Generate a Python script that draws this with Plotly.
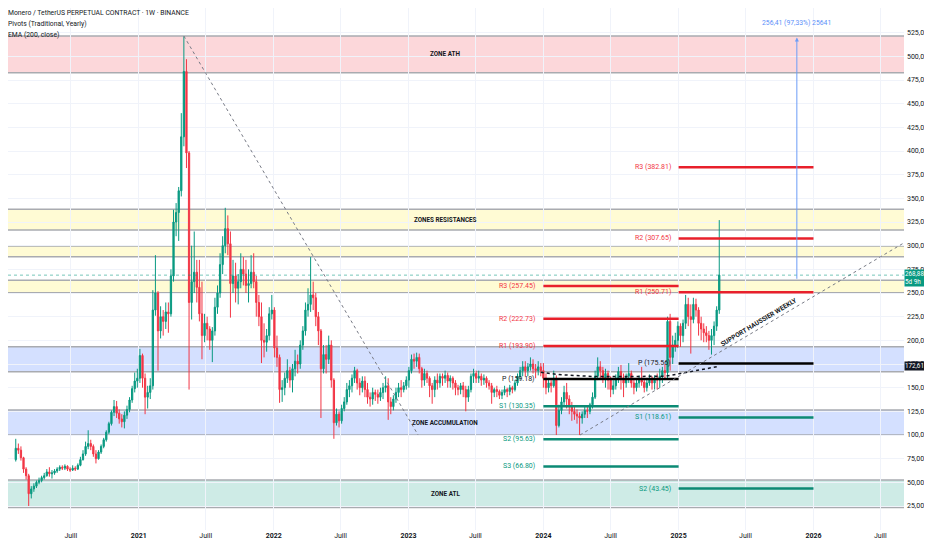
import pandas as pd
import plotly.graph_objects as go

# ---- weekly XMR/USDT perpetual candles ----
FIRST_WEEK = "2020-02-03"
FIRST_OPEN = 74

closes = [
    # 2020
    86, 84, 76, 64, 57, 38, 43, 46, 50, 52,
    55, 57, 61, 59, 60, 62, 64, 66, 65, 67,
    64, 63, 65, 64, 68, 74, 80, 88, 91, 88,
    80, 75, 82, 88, 95, 103, 112, 124, 130, 123,
    117, 114, 121, 127, 137, 149, 157, 160,
    # 2021
    184, 160, 140, 145, 152, 232, 250, 210, 225, 220,
    230, 228, 268, 325, 335, 358, 415, 484, 398, 240,
    262, 272, 256, 228, 205, 218, 212, 200, 210, 235,
    250, 280, 300, 318, 302, 260, 268, 255, 262, 275,
    270, 258, 260, 272, 262, 240, 225, 200, 198, 205,
    228, 232,
    # 2022
    192, 182, 148, 150, 160, 168, 158, 170, 178, 175,
    195, 210, 232, 238, 248, 245, 225, 210, 170, 185,
    180, 195, 158, 113, 122, 115, 128, 135, 148, 152,
    160, 168, 155, 150, 157, 148, 140, 138, 145, 143,
    140, 145, 150, 152, 135, 130, 138, 145, 150, 148,
    152, 158,
    # 2023
    168, 180, 178, 182, 170, 158, 165, 160, 152, 148,
    158, 155, 162, 160, 163, 157, 160, 155, 150, 148,
    152, 148, 140, 148, 162, 165, 160, 162, 158, 160,
    155, 152, 145, 148, 146, 142, 145, 148, 146, 150,
    148, 155, 162, 168, 172, 168, 172, 175, 170, 168,
    172, 168,
    # 2024 - 2025
    160, 150, 155, 152, 160, 110, 126, 135, 145, 138,
    130, 125, 122, 120, 118, 122, 126, 125, 132, 140,
    162, 172, 168, 160, 165, 158, 148, 152, 160, 167,
    160, 155, 162, 165, 155, 150, 155, 158, 156, 150,
    155, 160, 155, 160, 158, 162, 168, 166, 220, 182,
    195, 200, 215, 205, 218, 238, 225, 222, 238, 232,
    218, 212, 208, 205, 200, 205, 215, 232, 268.88,
]

highs = [
    96, 91, 88, 77, 66, 59, 46, 49, 52, 55,
    57, 60, 64, 66, 63, 64, 66, 68, 68, 69,
    68, 66, 68, 67, 70, 77, 84, 93, 105, 95,
    90, 84, 84, 90, 97, 105, 114, 126, 137, 136,
    127, 122, 125, 131, 140, 152, 166, 170,
    191, 186, 165, 152, 160, 253, 290, 252, 236, 232,
    240, 240, 275, 338, 345, 362, 440, 521, 497, 400,
    300, 315, 285, 285, 262, 228, 225, 215, 214, 245,
    258, 292, 310, 340, 332, 315, 285, 282, 270, 292,
    288, 285, 275, 290, 292, 268, 248, 240, 218, 212,
    235, 248,
    235, 205, 185, 158, 166, 180, 172, 175, 190, 185,
    200, 215, 240, 255, 288, 262, 250, 230, 212, 195,
    195, 205, 200, 160, 128, 125, 132, 140, 155, 158,
    164, 172, 170, 160, 162, 162, 155, 145, 150, 148,
    148, 150, 155, 162, 160, 140, 142, 150, 155, 158,
    156, 162,
    172, 185, 186, 187, 186, 172, 170, 168, 162, 155,
    162, 165, 165, 165, 168, 166, 163, 162, 158, 153,
    155, 156, 152, 152, 165, 170, 168, 168, 165, 164,
    162, 158, 155, 150, 152, 148, 148, 152, 150, 153,
    152, 158, 165, 172, 178, 178, 176, 182, 180, 175,
    178, 176,
    176, 165, 160, 158, 168, 163, 132, 140, 152, 155,
    142, 135, 130, 127, 124, 125, 130, 130, 134, 145,
    168, 182, 178, 172, 170, 168, 162, 158, 164, 172,
    174, 165, 165, 176, 168, 160, 160, 163, 172, 160,
    160, 164, 162, 163, 165, 170, 172, 175, 225, 228,
    205, 208, 220, 218, 222, 248, 245, 238, 245, 244,
    235, 225, 218, 215, 210, 212, 220, 236, 327,
]

lows = [
    72, 80, 73, 60, 53, 25, 33, 40, 44, 48,
    50, 53, 56, 56, 54, 58, 60, 62, 63, 63,
    62, 61, 62, 62, 63, 67, 73, 78, 85, 84,
    77, 70, 74, 80, 86, 93, 101, 110, 120, 118,
    112, 108, 107, 117, 124, 134, 145, 150,
    155, 150, 122, 128, 138, 148, 226, 168, 202, 205,
    212, 208, 225, 262, 310, 305, 352, 405, 382, 148,
    222, 250, 240, 220, 180, 198, 200, 190, 177, 205,
    228, 245, 270, 292, 290, 224, 250, 240, 238, 255,
    258, 250, 240, 255, 255, 225, 215, 176, 182, 188,
    200, 222,
    182, 172, 134, 135, 142, 155, 150, 145, 162, 165,
    170, 190, 205, 225, 230, 232, 215, 195, 118, 165,
    165, 175, 150, 96, 110, 108, 112, 125, 132, 140,
    145, 155, 148, 142, 145, 140, 133, 130, 132, 136,
    133, 136, 138, 145, 116, 122, 126, 134, 140, 140,
    145, 148,
    150, 165, 170, 172, 165, 150, 152, 155, 140, 133,
    140, 148, 150, 152, 155, 150, 150, 148, 142, 142,
    143, 140, 125, 135, 145, 155, 155, 155, 152, 153,
    150, 148, 133, 140, 140, 138, 138, 142, 140, 142,
    144, 146, 152, 158, 162, 162, 162, 168, 165, 160,
    163, 162,
    150, 143, 145, 145, 150, 100, 108, 122, 130, 128,
    122, 115, 116, 112, 100, 112, 118, 118, 122, 128,
    138, 158, 160, 155, 150, 148, 140, 143, 148, 155,
    148, 140, 150, 155, 150, 143, 146, 150, 152, 145,
    146, 152, 148, 148, 148, 150, 155, 158, 160, 168,
    175, 188, 192, 193, 198, 212, 215, 186, 218, 225,
    205, 200, 198, 198, 190, 185, 195, 210, 228,
]

# ---- horizontal zones ----
zone_kind = ["ath", "res", "res", "res", "acc", "acc", "atl"]
zone_low = [482.7, 316.6, 288.4, 250.3, 166.9, 100.0, 23.5]
zone_high = [521.5, 338.4, 299.6, 263.4, 193.3, 126.4, 52.5]
zone_label = ["ZONE ATH", "ZONES RESISTANCES", "", "", "", "ZONE ACCUMULATION", "ZONE ATL"]

# ---- yearly traditional pivots ----
piv_2024_names = ["R3", "R2", "R1", "P", "S1", "S2", "S3"]
piv_2024_vals = [257.45, 222.73, 193.90, 159.18, 130.35, 95.63, 66.80]
piv_2025_names = ["R3", "R2", "R1", "P", "S1", "S2"]
piv_2025_vals = [382.81, 307.65, 250.71, 175.56, 118.61, 43.45]

# ---- EMA 200 (dotted) ----
ema_dates = ["2023-12-25", "2024-02-12", "2024-05-13", "2024-11-25", "2025-01-06", "2025-04-21"]
ema_vals = [166.2, 163.8, 161.8, 162.0, 165.0, 172.61]

# ---- drawings ----
ath_line_dates = ["2021-05-03", "2023-01-27"]
ath_line_vals = [521.5, 100.0]
support_dates = ["2024-04-09", "2026-09-03"]
support_vals = [100.0, 303.0]
measure_date = "2025-11-17"
measure_from, measure_to = 263.44, 519.85
measure_text = "256,41 (97,33%) 25641"
last_price = 268.88
ema_last = 172.61

price_ticks = list(range(25, 551, 25))
time_ticks = ["2020-07-01", "2021-01-01", "2021-07-01", "2022-01-01", "2022-07-01",
              "2023-01-01", "2023-07-01", "2024-01-01", "2024-07-01", "2025-01-01",
              "2025-07-01", "2026-01-01", "2026-07-01"]
time_labels = ["Juill", "2021", "Juill", "2022", "Juill", "2023", "Juill", "2024",
               "Juill", "2025", "Juill", "2026", "Juill"]

UP = "#089981"
DOWN = "#f23645"
INK = "#131722"
FONT = "Roboto"
ZONE_FILL = {"ath": "rgba(242,54,69,0.2)", "res": "rgba(255,235,59,0.22)",
             "acc": "rgba(41,98,255,0.2)", "atl": "rgba(8,153,129,0.2)"}
ZONE_EDGE = "#a9abb0"

weeks = pd.date_range(FIRST_WEEK, periods=len(closes), freq="7D")
opens = [FIRST_OPEN] + closes[:-1]


def fmt(v):
    return f"{v:.2f}".replace(".", ",")


fig = go.Figure()

fig.add_trace(go.Candlestick(
    x=weeks, open=opens, high=highs, low=lows, close=closes,
    increasing=dict(line=dict(color=UP, width=1), fillcolor=UP),
    decreasing=dict(line=dict(color=DOWN, width=1), fillcolor=DOWN),
    whiskerwidth=0, showlegend=False, hoverinfo="skip",
))

fig.add_trace(go.Scatter(
    x=ema_dates, y=ema_vals, mode="lines",
    line=dict(color=INK, width=1.5, dash="dot"),
    showlegend=False, hoverinfo="skip",
))

shapes = []
annotations = []

# zones
for kind, lo, hi, lab in zip(zone_kind, zone_low, zone_high, zone_label):
    shapes.append(dict(type="rect", xref="paper", x0=0, x1=1, yref="y", y0=lo, y1=hi,
                       fillcolor=ZONE_FILL[kind], line=dict(width=0), layer="below"))
    for yv in (lo, hi):
        shapes.append(dict(type="line", xref="paper", x0=0, x1=1, yref="y", y0=yv, y1=yv,
                           line=dict(color=ZONE_EDGE, width=1.5), layer="below"))
    if lab:
        annotations.append(dict(xref="paper", x=0.488, yref="y", y=(lo + hi) / 2,
                                text=f"<b>{lab}</b>", showarrow=False,
                                font=dict(family=FONT, size=6.3, color=INK)))


# pivots
def pivot_color(name):
    if name.startswith("R"):
        return "#e8202b", DOWN
    if name.startswith("S"):
        return "#0b8a74", UP
    return "#000000", INK


for names, vals, start, end in [(piv_2024_names, piv_2024_vals, "2024-01-01", "2025-01-01"),
                                (piv_2025_names, piv_2025_vals, "2025-01-01", "2026-01-01")]:
    for name, val in zip(names, vals):
        lc, tc = pivot_color(name)
        shapes.append(dict(type="line", xref="x", x0=start, x1=end, yref="y", y0=val, y1=val,
                           line=dict(color=lc, width=2.5), layer="above"))
        annotations.append(dict(xref="x", x=start, yref="y", y=val, xanchor="right",
                                xshift=-6, text=f"{name} ({val:.2f})", showarrow=False,
                                font=dict(family=FONT, size=7, color=tc)))

# trend lines
shapes.append(dict(type="line", xref="x", yref="y",
                   x0=ath_line_dates[0], y0=ath_line_vals[0],
                   x1=ath_line_dates[1], y1=ath_line_vals[1],
                   line=dict(color="#787b86", width=1, dash="3px,3px")))
shapes.append(dict(type="line", xref="x", yref="y",
                   x0=support_dates[0], y0=support_vals[0],
                   x1=support_dates[1], y1=support_vals[1],
                   line=dict(color="#787b86", width=1, dash="3px,3px")))
annotations.append(dict(xref="x", x="2025-08-07", yref="y", y=219.5, textangle=-31,
                        text="<b>SUPPORT HAUSSIER WEEKLY</b>", showarrow=False,
                        font=dict(family=FONT, size=6.5, color=INK)))

# last price line
shapes.append(dict(type="line", xref="paper", x0=0, x1=1, yref="y", y0=last_price, y1=last_price,
                   line=dict(color="rgba(8,153,129,0.55)", width=1, dash="dot")))

# measurement arrow
annotations.append(dict(xref="x", x=measure_date, yref="y", y=measure_to,
                        axref="x", ax=measure_date, ayref="y", ay=measure_from,
                        text="", showarrow=True, arrowhead=2, arrowsize=0.8,
                        arrowwidth=1, arrowcolor="#6b9cf7"))
annotations.append(dict(xref="x", x=measure_date, yref="y", y=535.5, text=measure_text,
                        showarrow=False, font=dict(family=FONT, size=6.8, color="#5b8ff9")))

# header (page adds an 8px offset, so keep the first line just inside the figure)
for i, line in enumerate(["Monero / TetherUS PERPETUAL CONTRACT · 1W · BINANCE",
                          "Pivots (Traditional, Yearly)", "EMA (200, close)"]):
    annotations.append(dict(xref="paper", x=0, xanchor="left", xshift=-2,
                            yref="paper", y=1, yanchor="middle", yshift=-5 - 11 * i,
                            text=line, showarrow=False,
                            font=dict(family=FONT, size=6.8, color=INK)))

# price axis labels
annotations.append(dict(xref="paper", x=1, xanchor="left", xshift=0, yref="y", y=last_price,
                        yanchor="top", yshift=6, text=f"{fmt(last_price)}<br>5d 9h",
                        showarrow=False, bgcolor=UP, borderpad=0, align="left",
                        font=dict(family=FONT, size=6.3, color="white")))
annotations.append(dict(xref="paper", x=1, xanchor="left", xshift=0, yref="y", y=ema_last,
                        text=fmt(ema_last), showarrow=False, bgcolor=INK, borderpad=0,
                        font=dict(family=FONT, size=6.3, color="white")))

# the page adds an 8px body margin, so the figure is 8px smaller each way
fig.update_layout(
    width=924, height=542,
    margin=dict(l=0, r=28, t=0, b=20),
    paper_bgcolor="white", plot_bgcolor="white",
    shapes=shapes, annotations=annotations,
    hovermode=False,
    font=dict(family=FONT, size=7, color=INK),
)
fig.update_xaxes(
    type="date", range=["2020-01-13", "2026-09-03"],
    tickvals=time_ticks,
    ticktext=[f"<b>{t}</b>" if t.isdigit() else t for t in time_labels],
    showgrid=True, gridcolor="#f0f3fa", zeroline=False, showline=False,
    rangeslider=dict(visible=False), ticks="", ticklen=0,
    tickfont=dict(family=FONT, size=7, color=INK),
)
fig.update_yaxes(
    side="right", range=[-0.33, 551.06],
    tickvals=price_ticks, ticktext=[fmt(v) for v in price_ticks],
    showgrid=True, gridcolor="#f0f3fa", zeroline=False, showline=False,
    ticks="", ticklen=0, ticklabelstandoff=2,
    tickfont=dict(family=FONT, size=7, color=INK),
)

fig.write_html("out.html")
